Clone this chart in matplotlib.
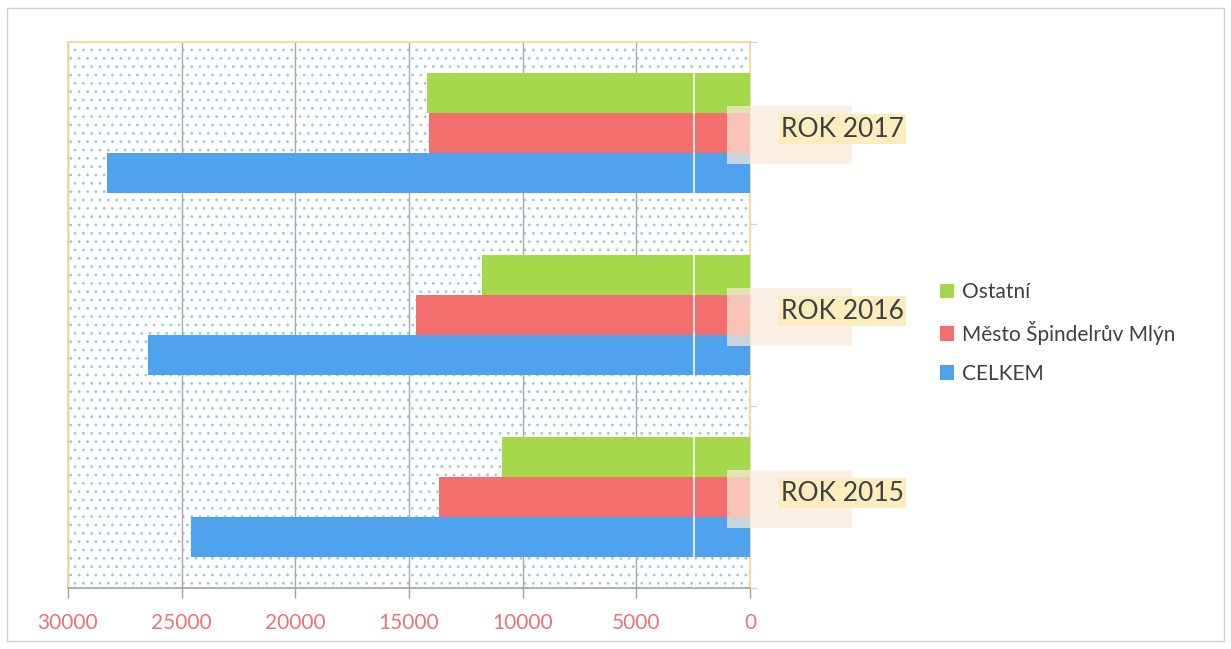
import numpy as np
import matplotlib.pyplot as plt
from matplotlib.patches import Rectangle

# data
years = ['ROK 2015', 'ROK 2016', 'ROK 2017']
ostatni = [10900, 11800, 14200]
mesto = [13700, 14700, 14100]
celkem = [24600, 26500, 28300]
series_names = ['Ostatní', 'Město Špindelrův Mlýn', 'CELKEM']
colors = ['#a6d84c', '#f56e6e', '#4fa3ee']

plt.rcParams['font.family'] = ['Lato', 'DejaVu Sans']
plt.rcParams['hatch.linewidth'] = 0.8
plt.rcParams['hatch.color'] = '#9cc8e4'

fig = plt.figure(figsize=(12.31, 6.49), dpi=100)
fig.patches.append(Rectangle((0.006, 0.012), 0.988, 0.976, transform=fig.transFigure,
                             fill=False, edgecolor='#d0d0d0', lw=1))

ax = fig.add_axes([0.0552, 0.094, 0.5541, 0.8413])
ax.set_facecolor('white')
# dotted background
ax.add_patch(Rectangle((0, 0), 1, 1, transform=ax.transAxes, facecolor='white',
                       hatch='..', edgecolor='#9cc8e4', lw=0, zorder=0))

y = np.arange(len(years))
h = 0.22
ax.barh(y + h, ostatni, h, color=colors[0], label=series_names[0], zorder=3)
ax.barh(y, mesto, h, color=colors[1], label=series_names[1], zorder=3)
ax.barh(y - h, celkem, h, color=colors[2], label=series_names[2], zorder=3)

ax.set_xlim(30000, 0)
ax.set_ylim(-0.5, 2.5)
ax.set_xticks([30000, 25000, 20000, 15000, 10000, 5000, 0])
ax.tick_params(axis='x', colors='#a0a0a0', labelcolor='#e8737a', labelsize=15,
               length=7, width=1, pad=11)
ax.grid(axis='x', color='#a8a8a8', lw=1, zorder=1)

ax.yaxis.tick_right()
ax.set_yticks([-0.5, 0.5, 1.5, 2.5])
ax.set_yticklabels([])
ax.tick_params(axis='y', colors='#d4d4d4', length=5, width=1)

for s in ['top', 'left', 'right']:
    ax.spines[s].set_color('#f5d88e')
    ax.spines[s].set_linewidth(1.2)
ax.spines['bottom'].set_color('#a0a0a0')
ax.spines['bottom'].set_linewidth(1.2)

# faint scan line
ax.axvline(2450, color='white', lw=1.5, alpha=0.8, zorder=4)

# year labels
for yi, name in zip(y, years):
    ax.add_patch(Rectangle((1000, yi - 0.17), -5500, 0.32, facecolor='#fce9d8',
                           edgecolor='none', alpha=0.7, zorder=5, clip_on=False))
    ax.text(-1350, yi + 0.02, name, fontsize=19, color='#404040', ha='left', va='center',
            zorder=6, clip_on=False,
            bbox=dict(boxstyle='square,pad=0.1', facecolor='#fbedbd', edgecolor='none'))

handles, labels = ax.get_legend_handles_labels()
fig.legend(handles, labels, loc='center left', bbox_to_anchor=(0.748, 0.487),
           frameon=False, fontsize=15, handlelength=0.7, handleheight=0.7,
           handletextpad=0.4, labelspacing=0.9, labelcolor='#404040')

plt.savefig('out.png', dpi=100)
